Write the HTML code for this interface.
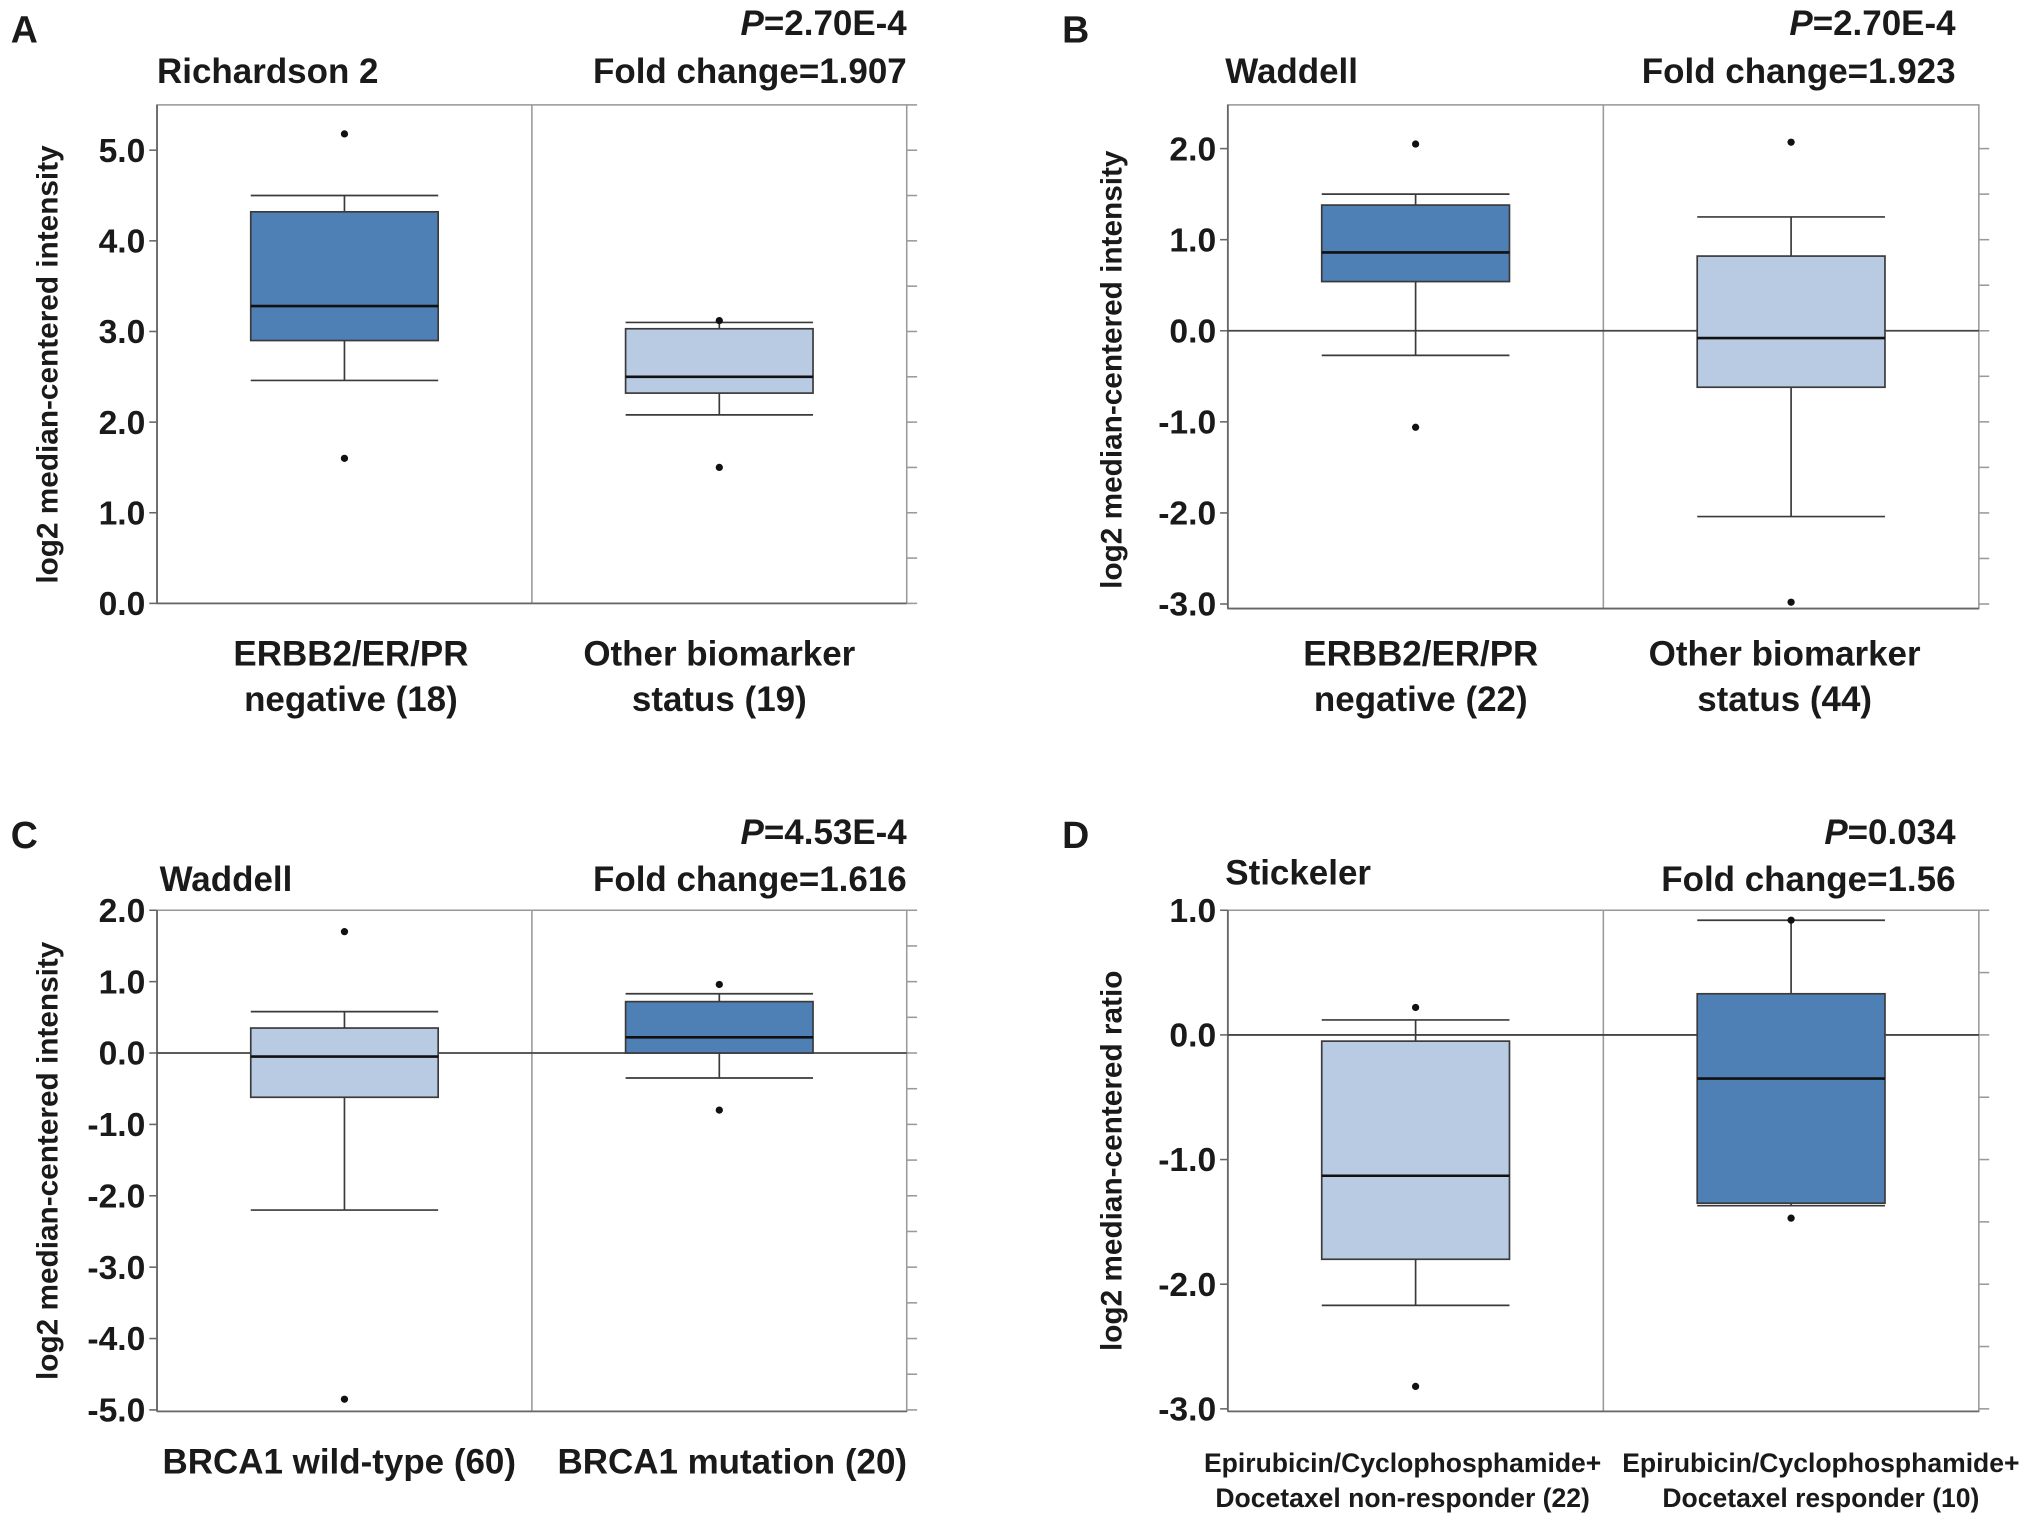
<!DOCTYPE html>
<html><head><meta charset="utf-8"><style>
html,body{margin:0;padding:0;background:#fff}
svg{display:block}
text{font-family:"Liberation Sans",Arial,sans-serif;font-weight:bold;fill:#1a1a1a}
</style></head><body>
<svg id="fig" xmlns="http://www.w3.org/2000/svg" width="2031" height="1524" viewBox="0 0 1568 1177"></svg>
<script>
// Panel A data
const aCats = [["ERBB2/ER/PR","negative (18)"],["Other biomarker","status (19)"]];
const aHigh = [4.5, 3.1];
const aQ3 = [4.32, 3.03];
const aMed = [3.28, 2.5];
const aQ1 = [2.9, 2.32];
const aLow = [2.46, 2.08];
const aOut = [[5.18, 1.6], [3.12, 1.5]];
const aTicks = ["0.0","1.0","2.0","3.0","4.0","5.0"];
// Panel B data
const bCats = [["ERBB2/ER/PR","negative (22)"],["Other biomarker","status (44)"]];
const bHigh = [1.5, 1.25];
const bQ3 = [1.38, 0.82];
const bMed = [0.86, -0.08];
const bQ1 = [0.54, -0.62];
const bLow = [-0.27, -2.04];
const bOut = [[2.05, -1.06], [2.07, -2.98]];
const bTicks = ["-3.0","-2.0","-1.0","0.0","1.0","2.0"];
// Panel C data
const cCats = [["BRCA1 wild-type (60)"],["BRCA1 mutation (20)"]];
const cHigh = [0.58, 0.83];
const cQ3 = [0.35, 0.72];
const cMed = [-0.05, 0.22];
const cQ1 = [-0.62, 0.0];
const cLow = [-2.2, -0.35];
const cOut = [[1.7, -4.85], [0.96, -0.8]];
const cTicks = ["-5.0","-4.0","-3.0","-2.0","-1.0","0.0","1.0","2.0"];
// Panel D data
const dCats = [["Epirubicin/Cyclophosphamide+","Docetaxel non-responder (22)"],["Epirubicin/Cyclophosphamide+","Docetaxel responder (10)"]];
const dHigh = [0.12, 0.92];
const dQ3 = [-0.05, 0.33];
const dMed = [-1.13, -0.35];
const dQ1 = [-1.8, -1.35];
const dLow = [-2.17, -1.37];
const dOut = [[0.22, -2.82], [0.92, -1.47]];
const dTicks = ["-3.0","-2.0","-1.0","0.0","1.0"];

const NS = "http://www.w3.org/2000/svg";
const svg = document.getElementById("fig");
function mk(tag, attrs, parent){const e=document.createElementNS(NS,tag);for(const k in attrs)e.setAttribute(k,attrs[k]);(parent||svg).appendChild(e);return e;}

function panel(cfg){
  const g = mk("g",{});
  
  
  const {x0,x1,y0,y1,vmin,vmax} = cfg;
  const ys = v => y1 - (v - vmin)/(vmax - vmin)*(y1 - y0);
  const dark="#4f80b5", light="#b8cbe3", frame="#9a9a9a", edge="#3a3a3a";
  const fr = mk("rect",{x:x0,y:y0,width:x1-x0,height:y1-y0,fill:"none",stroke:frame,"stroke-width":1.2},g);
  
  
  const mid=(x0+x1)/2;
  const dv = mk("line",{x1:mid,x2:mid,y1:y0,y2:y1,stroke:frame,"stroke-width":1.2},g);
  
  
  mk("line",{x1:x0,x2:x0,y1:y0,y2:y1,stroke:"#666","stroke-width":1.4},g);
  mk("line",{x1:x0,x2:x1,y1:y1,y2:y1,stroke:"#666","stroke-width":1.4},g);
  cfg.ticks.forEach(t=>{
    const v=parseFloat(t), y=ys(v);
    mk("line",{x1:x0-6,x2:x0,y1:y,y2:y,stroke:"#666","stroke-width":1.2},g);
    const lb = mk("text",{x:x0-9,y:y+9,"text-anchor":"end","font-size":26},g);
    lb.textContent=t;
    
    
  });
  for(let v=Math.ceil(vmin*2)/2; v<=vmax+1e-9; v+=0.5){
    const y=ys(v);
    mk("line",{x1:x1,x2:x1+8,y1:y,y2:y,stroke:frame,"stroke-width":1.2},g);
  }
  if(vmin<0 && vmax>0){
    const z = mk("line",{x1:x0,x2:x1,y1:ys(0),y2:ys(0),stroke:"#444","stroke-width":1.4},g);
    
    
  }
  const half=(x1-x0)/2;
  for(let i=0;i<2;i++){
    const cx = x0 + half*(i+0.5), bw = half*0.5;
    const bl=cx-bw/2, br=cx+bw/2;
    const col = cfg.colors[i]==="d"?dark:light;
    mk("line",{x1:cx,x2:cx,y1:ys(cfg.high[i]),y2:ys(cfg.q3[i]),stroke:edge,"stroke-width":1.3},g);
    mk("line",{x1:cx,x2:cx,y1:ys(cfg.q1[i]),y2:ys(cfg.low[i]),stroke:edge,"stroke-width":1.3},g);
    mk("line",{x1:bl,x2:br,y1:ys(cfg.high[i]),y2:ys(cfg.high[i]),stroke:edge,"stroke-width":1.3},g);
    mk("line",{x1:bl,x2:br,y1:ys(cfg.low[i]),y2:ys(cfg.low[i]),stroke:edge,"stroke-width":1.3},g);
    const b = mk("rect",{x:bl,y:ys(cfg.q3[i]),width:bw,height:ys(cfg.q1[i])-ys(cfg.q3[i]),fill:col,stroke:edge,"stroke-width":1.3},g);
    
    
    const m = mk("line",{x1:bl,x2:br,y1:ys(cfg.med[i]),y2:ys(cfg.med[i]),stroke:"#111","stroke-width":2},g);
    
    
    cfg.out[i].forEach(v=>{
      const c = mk("circle",{cx:cx,cy:ys(v),r:2.8,fill:"#111"},g);
      
      
    });
    const lines = cfg.cats[i];
    lines.forEach((s,k)=>{
      const t = mk("text",{x:cx+cfg.catDx[i],y:cfg.catY[k],"text-anchor":"middle","font-size":cfg.catFs},g);
      t.textContent=s;
      
      
    });
  }
  const L = mk("text",{x:cfg.lx,y:cfg.ly,"font-size":29},g); L.textContent=cfg.letter;
   
  const ds = mk("text",{x:cfg.dsX,y:cfg.dsY,"font-size":27},g); ds.textContent=cfg.dataset;
   
  const p = mk("text",{x:cfg.tr,y:cfg.pY,"font-size":27,"text-anchor":"end"},g);
  const pi = mk("tspan",{"font-style":"italic"},p); pi.textContent="P";
  const pr = mk("tspan",{},p); pr.textContent="="+cfg.p;
   
  const fc = mk("text",{x:cfg.tr,y:cfg.fcY,"font-size":27,"text-anchor":"end"},g); fc.textContent="Fold change="+cfg.fc;
   
  const yt = mk("text",{x:0,y:0,"font-size":23,"text-anchor":"middle",transform:`translate(${cfg.ytx},${(y0+y1)/2+cfg.ytDy}) rotate(-90)`},g);
  yt.textContent=cfg.ytitle;
   
}

panel({letter:"A",x0:121,x1:700,y0:81,y1:466,vmin:0,vmax:5.5,ticks:aTicks,high:aHigh,q3:aQ3,med:aMed,q1:aQ1,low:aLow,out:aOut,cats:aCats,colors:["d","l"],
  catY:[514,549],catFs:27,catDx:[5,0],lx:8,ly:33,dsX:121,dsY:64,tr:700,pY:27,fcY:64,p:"2.70E-4",fc:"1.907",dataset:"Richardson 2",ytx:44,ytDy:8,ytitle:"log2 median-centered intensity"});
panel({letter:"B",x0:948,x1:1528,y0:81,y1:470,vmin:-3.05,vmax:2.48,ticks:bTicks,high:bHigh,q3:bQ3,med:bMed,q1:bQ1,low:bLow,out:bOut,cats:bCats,colors:["d","l"],
  catY:[514,549],catFs:27,catDx:[4,-5],lx:820,ly:33,dsX:946,dsY:64,tr:1510,pY:27,fcY:64,p:"2.70E-4",fc:"1.923",dataset:"Waddell",ytx:866,ytDy:10,ytitle:"log2 median-centered intensity"});
panel({letter:"C",x0:121,x1:700,y0:703,y1:1090,vmin:-5.02,vmax:2.0,ticks:cTicks,high:cHigh,q3:cQ3,med:cMed,q1:cQ1,low:cLow,out:cOut,cats:cCats,colors:["l","d"],
  catY:[1138],catFs:27,catDx:[-4,10],lx:8,ly:655,dsX:123,dsY:688,tr:700,pY:652,fcY:688,p:"4.53E-4",fc:"1.616",dataset:"Waddell",ytx:44,ytDy:0,ytitle:"log2 median-centered intensity"});
panel({letter:"D",x0:948,x1:1528,y0:703,y1:1090,vmin:-3.02,vmax:1.0,ticks:dTicks,high:dHigh,q3:dQ3,med:dMed,q1:dQ1,low:dLow,out:dOut,cats:dCats,colors:["l","d"],
  catY:[1137,1164],catFs:20.5,catDx:[-10,23],lx:820,ly:655,dsX:946,dsY:683,tr:1510,pY:652,fcY:688,p:"0.034",fc:"1.56",dataset:"Stickeler",ytx:866,ytDy:0,ytitle:"log2 median-centered ratio"});
</script>
</body></html>
